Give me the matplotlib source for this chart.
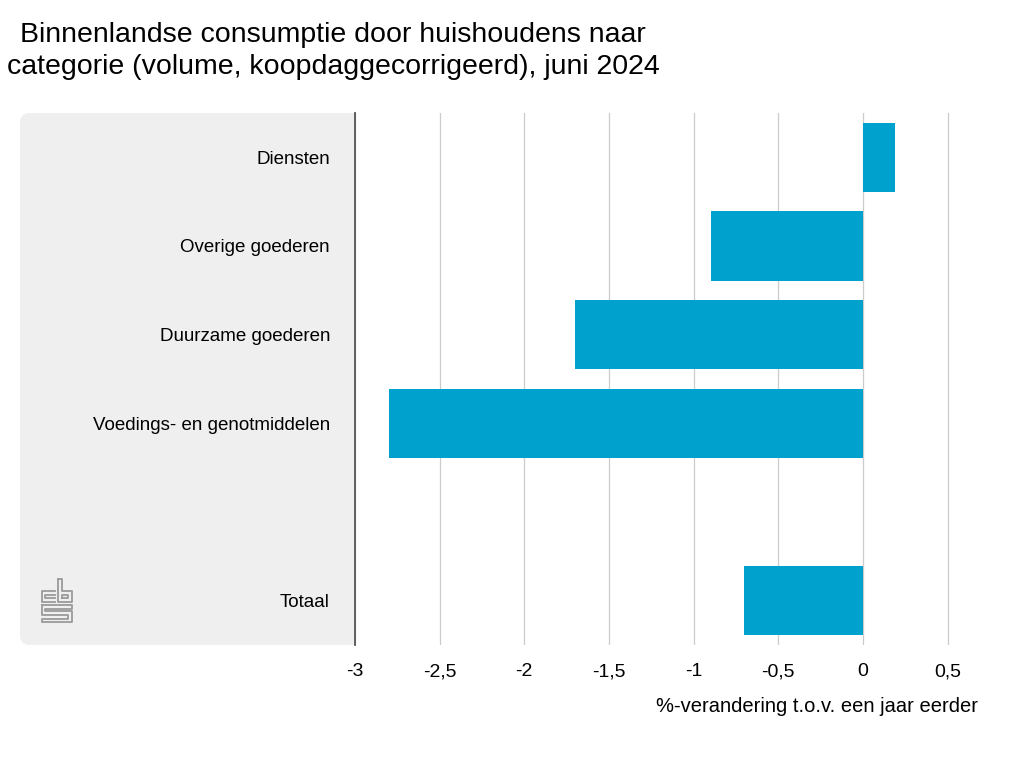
import numpy as np
import matplotlib
matplotlib.use("Agg")
import matplotlib.pyplot as plt
from matplotlib.patches import FancyBboxPatch
from matplotlib.transforms import IdentityTransform

plt.rcParams["font.family"] = ["Liberation Sans", "DejaVu Sans"]

categories = ["Diensten", "Overige goederen", "Duurzame goederen",
              "Voedings- en genotmiddelen", "Totaal"]
values = [0.19, -0.9, -1.7, -2.8, -0.7]
slots = [0, 1, 2, 3, 5]   # empty slot between the groups and the total
ticks = [-3, -2.5, -2, -1.5, -1, -0.5, 0, 0.5]
tick_labels = ["-3", "-2,5", "-2", "-1,5", "-1", "-0,5", "0", "0,5"]
BLUE, PANEL, GRID = "#00A1CD", "#EFEFEF", "#CCCCCC"

fig = plt.figure(figsize=(10.24, 7.68), dpi=100)
ax = fig.add_axes([355 / 1024, 1 - 645 / 768, 601 / 1024, 532 / 768])

# grey label panel behind the category names, in pixel coordinates
panel = FancyBboxPatch((20, 123), 360, 532, boxstyle="round,pad=0,rounding_size=10",
                       transform=IdentityTransform(), facecolor=PANEL, edgecolor="none", zorder=-1)
fig.patches.append(panel)

ax.barh(slots, values, height=0.78, color=BLUE, zorder=3)
ax.set_xlim(-3, 0.55)
ax.set_ylim(5.5, -0.5)
ax.set_xticks(ticks)
ax.set_xticklabels(tick_labels)
ax.set_yticks(slots)
ax.set_yticklabels(categories)
ax.tick_params(axis="y", length=0, pad=18, labelsize=13.5)
ax.tick_params(axis="x", length=0, pad=13, labelsize=14)
ax.grid(axis="x", color=GRID, lw=0.9, zorder=0)
for s in ["top", "right", "bottom"]:
    ax.spines[s].set_visible(False)
ax.spines["left"].set_color("#555555")
ax.spines["left"].set_linewidth(1.3)
ax.spines["left"].set_zorder(4)

fig.text(978 / 1024, 1 - 706 / 768, "%-verandering t.o.v. een jaar eerder",
         ha="right", va="center", fontsize=14.5)
fig.text(333 / 1024, 1 - 51 / 768,
         "Binnenlandse consumptie door huishoudens naar\ncategorie (volume, koopdaggecorrigeerd), juni 2024",
         ha="center", va="center", fontsize=20.5, linespacing=1.3)

# cbs logo, drawn as outlines
lg = fig.add_axes([40 / 1024, 1 - 624 / 768, 33 / 1024, 47 / 768])
lg.set_xlim(-0.5, 10.5)
lg.set_ylim(-0.5, 14.5)
lg.axis("off")
c = "#9A9A9A"
lg.plot([4.5, 0, 0, 4.5], [10, 10, 6.5, 6.5], color=c, lw=1.3)
lg.plot([4.5, 1.2, 1.2, 4.5], [8.8, 8.8, 7.7, 7.7], color=c, lw=1.3)
lg.plot([5.5, 5.5, 10, 10, 6.7, 6.7, 5.5], [14, 6.5, 6.5, 10, 10, 14, 14], color=c, lw=1.3)
lg.plot([6.7, 8.8, 8.8, 6.7, 6.7], [7.7, 7.7, 8.8, 8.8, 7.7], color=c, lw=1.3)
lg.plot([0, 10, 10, 1.2, 1.2, 10, 10, 0, 0, 8.8, 8.8, 0, 0],
        [5.5, 5.5, 4.3, 4.3, 3.5, 3.5, 0, 0, 1.2, 1.2, 2.3, 2.3, 5.5], color=c, lw=1.3)

fig.savefig("out.png", dpi=100)
